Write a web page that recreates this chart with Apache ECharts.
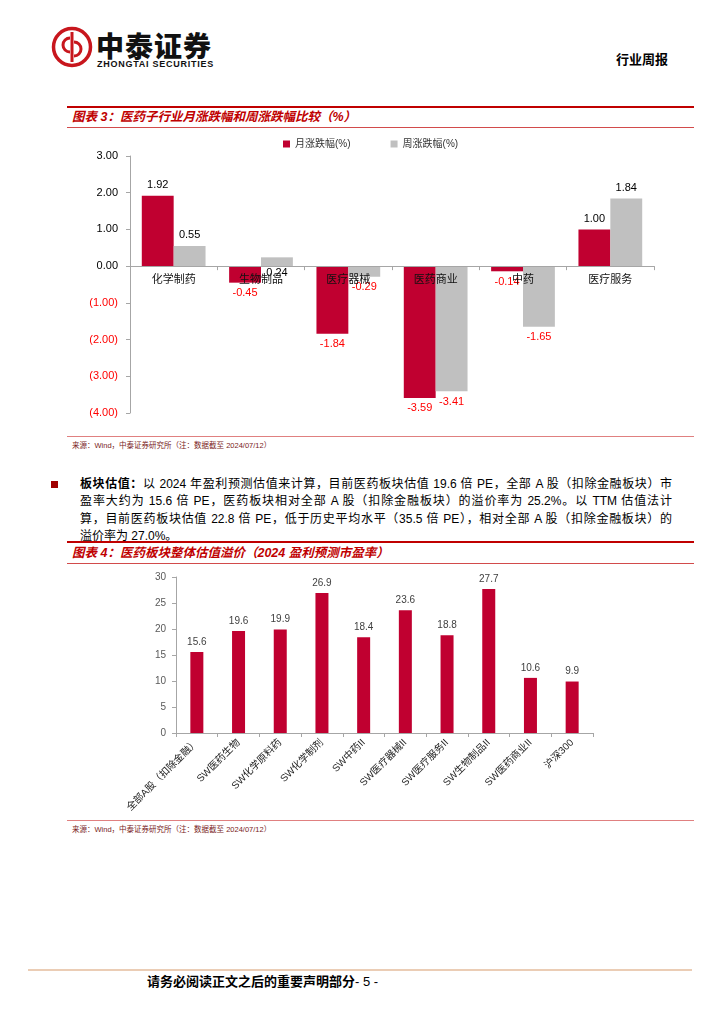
<!DOCTYPE html>
<html><head><meta charset="utf-8">
<script src="https://cdn.jsdelivr.net/npm/echarts@6/dist/echarts.min.js"></script>
<style>
html,body{margin:0;padding:0;background:#fff;}
body{width:724px;height:1024px;position:relative;overflow:hidden;font-family:"Liberation Sans","Noto Sans CJK SC",sans-serif;}
.title{position:absolute;left:72px;font-size:12.5px;font-weight:bold;font-style:italic;color:#C00000;line-height:16px;white-space:nowrap;}
.thick{position:absolute;left:67px;width:627px;height:2px;background:#C00000;}
.thin{position:absolute;left:67px;width:627px;height:1px;background:#D24B4B;}
.src{position:absolute;left:72px;font-size:7.5px;color:#7a1c1c;white-space:nowrap;line-height:10px;}
.para{position:absolute;left:80px;width:592px;font-size:12px;line-height:17.4px;color:#000;}
.para div{text-align:justify;text-align-last:justify;}
.para div.last{text-align-last:left;}
</style>
</head>
<body>
<!-- header -->
<svg style="position:absolute;left:50px;top:26px" width="44" height="44" viewBox="0 0 44 44">
  <circle cx="22" cy="21" r="18.5" fill="none" stroke="#C8161D" stroke-width="3.5"/>
  <line x1="22" y1="6" x2="22" y2="36" stroke="#C8161D" stroke-width="3"/>
  <path d="M20 12 A7 7 0 1 0 20 26" fill="none" stroke="#C8161D" stroke-width="3"/>
  <path d="M24 16 A7 7 0 1 1 24 30" fill="none" stroke="#C8161D" stroke-width="3"/>
</svg>
<div style="position:absolute;left:96px;top:28px;font-size:28px;font-weight:900;line-height:34px;color:#111;font-family:'Noto Sans CJK SC';letter-spacing:1px;">中泰证券</div>
<div style="position:absolute;left:97px;top:59px;font-size:9px;font-weight:bold;line-height:10px;color:#111;letter-spacing:0.75px;white-space:nowrap;">ZHONGTAI SECURITIES</div>
<div style="position:absolute;left:616px;top:51px;font-size:13px;font-weight:bold;line-height:18px;color:#000;">行业周报</div>

<!-- chart 3 header -->
<div class="thick" style="top:106px;"></div>
<div class="title" style="top:109px;">图表 3：医药子行业月涨跌幅和周涨跌幅比较（%）</div>
<div class="thin" style="top:127px;"></div>
<div id="c1" style="position:absolute;left:60px;top:128px;width:640px;height:300px;"></div>
<div class="thin" style="top:436px;background:#E08080;"></div>
<div class="src" style="top:441px;">来源：Wind，中泰证券研究所（注：数据截至 2024/07/12）</div>

<!-- paragraph -->
<div style="position:absolute;left:51px;top:481px;width:7px;height:7px;background:#A00000;"></div>
<div class="para" style="top:476px;">
<div><b>板块估值：</b>以 2024 年盈利预测估值来计算，目前医药板块估值 19.6 倍 PE，全部 A 股（扣除金融板块）市</div>
<div>盈率大约为 15.6 倍 PE，医药板块相对全部 A 股（扣除金融板块）的溢价率为 25.2%。以 TTM 估值法计</div>
<div>算，目前医药板块估值 22.8 倍 PE，低于历史平均水平（35.5 倍 PE），相对全部 A 股（扣除金融板块）的</div>
<div class="last">溢价率为 27.0%。</div>
</div>

<!-- chart 4 header -->
<div class="thick" style="top:541px;"></div>
<div class="title" style="top:545px;">图表 4：医药板块整体估值溢价（2024 盈利预测市盈率）</div>
<div class="thin" style="top:563px;"></div>
<div id="c2" style="position:absolute;left:60px;top:566px;width:640px;height:252px;"></div>
<div class="thin" style="top:820px;background:#E08080;"></div>
<div class="src" style="top:825px;">来源：Wind，中泰证券研究所（注：数据截至 2024/07/12）</div>

<!-- footer -->
<div style="position:absolute;left:28px;top:969px;width:664px;height:2px;background:#EBCDB5;"></div>
<div style="position:absolute;left:147px;top:973px;font-size:13px;font-weight:bold;line-height:18px;color:#000;white-space:nowrap;">请务必阅读正文之后的重要声明部分<span style="font-weight:normal">- 5 -</span></div>

<script>
// ---- data: chart 3 ----
const cats1 = ['化学制药','生物制品','医疗器械','医药商业','中药','医疗服务'];
const series1Names = ['月涨跌幅(%)','周涨跌幅(%)'];
const monthly = [1.92, -0.45, -1.84, -3.59, -0.14, 1.00];
const weekly  = [0.55, 0.24, -0.29, -3.41, -1.65, 1.84];
const yMin1 = -4, yMax1 = 3, yStep1 = 1;

// ---- data: chart 4 ----
const cats2 = ['全部A股（扣除金融）','SW医药生物','SW化学原料药','SW化学制剂','SW中药II','SW医疗器械II','SW医疗服务II','SW生物制品II','SW医药商业II','沪深300'];
const pe2 = [15.6, 19.6, 19.9, 26.9, 18.4, 23.6, 18.8, 27.7, 10.6, 9.9];
const yMin2 = 0, yMax2 = 30, yStep2 = 5;

const FONT = '"Liberation Sans","Noto Sans CJK SC",sans-serif';
const RED = '#C00030', GRAY = '#C0C0C0', AXIS = '#A6A6A6';

function mkData(vals, forceBelow) {
  return vals.map((v, i) => ({
    value: v,
    label: {
      position: (v < 0 || forceBelow.indexOf(i) >= 0) ? 'bottom' : 'top',
      distance: (forceBelow.indexOf(i) >= 0) ? 1 : 5,
      color: v < 0 ? '#FF0000' : '#000'
    }
  }));
}

const grid1H = 257;
// move the category axis (line + labels) up to the zero line of the value axis
const zeroOffset1 = -grid1H * (0 - yMin1) / (yMax1 - yMin1);

const c1 = echarts.init(document.getElementById('c1'));
c1.setOption({
  animation: false,
  textStyle: { fontFamily: FONT },
  legend: {
    data: series1Names, left: 218, top: 6, itemWidth: 7, itemHeight: 7, itemGap: 40,
    icon: 'rect', textStyle: { fontSize: 10, color: '#333', fontFamily: FONT }
  },
  grid: { left: 70, top: 28, width: 524, height: grid1H, containLabel: false },
  xAxis: {
    type: 'category', data: cats1, z: 10, offset: zeroOffset1,
    axisLine: { onZero: false, lineStyle: { color: AXIS, width: 1 } },
    axisTick: { show: true, length: 4, lineStyle: { color: AXIS } },
    axisLabel: { fontSize: 11, color: '#111', margin: 8, fontFamily: FONT }
  },
  yAxis: {
    type: 'value', min: yMin1, max: yMax1, interval: yStep1,
    splitLine: { show: false },
    axisLine: { show: true, lineStyle: { color: AXIS } },
    axisTick: { show: true, length: 4, lineStyle: { color: AXIS } },
    axisLabel: {
      fontSize: 11, margin: 12, fontFamily: FONT,
      formatter: v => v < 0 ? '{n|(' + Math.abs(v).toFixed(2) + ')}' : '{p|' + v.toFixed(2) + '}',
      rich: { n: { color: '#FF0000', fontSize: 11, fontFamily: FONT }, p: { color: '#000', fontSize: 11, fontFamily: FONT } }
    }
  },
  series: [
    { name: series1Names[0], type: 'bar', data: mkData(monthly, []), itemStyle: { color: RED },
      barGap: '0%', barCategoryGap: '27%',
      label: { show: true, fontSize: 11, fontFamily: FONT, formatter: p => p.value.toFixed(2) } },
    { name: series1Names[1], type: 'bar', data: mkData(weekly, [1]), itemStyle: { color: GRAY },
      barGap: '0%', barCategoryGap: '27%',
      label: { show: true, fontSize: 11, fontFamily: FONT, formatter: p => p.value.toFixed(2) } }
  ]
});

const c2 = echarts.init(document.getElementById('c2'));
c2.setOption({
  animation: false,
  textStyle: { fontFamily: FONT },
  grid: { left: 116, top: 11, width: 417, height: 156, containLabel: false },
  xAxis: {
    type: 'category', data: cats2,
    axisLine: { lineStyle: { color: AXIS } },
    axisTick: { show: true, length: 4, lineStyle: { color: AXIS } },
    axisLabel: { interval: 0, rotate: 45, fontSize: 10, color: '#222', margin: 8, fontFamily: FONT }
  },
  yAxis: {
    type: 'value', min: yMin2, max: yMax2, interval: yStep2,
    splitLine: { show: false },
    axisLine: { show: true, lineStyle: { color: AXIS } },
    axisTick: { show: true, length: 4, lineStyle: { color: AXIS } },
    axisLabel: { fontSize: 10, color: '#595959', margin: 10, fontFamily: FONT }
  },
  series: [{
    type: 'bar', data: pe2, barWidth: 13, itemStyle: { color: RED },
    label: { show: true, position: 'top', distance: 5, fontSize: 10, color: '#404040', fontFamily: FONT,
      formatter: p => p.value.toFixed(1) }
  }]
});
</script>
</body></html>
